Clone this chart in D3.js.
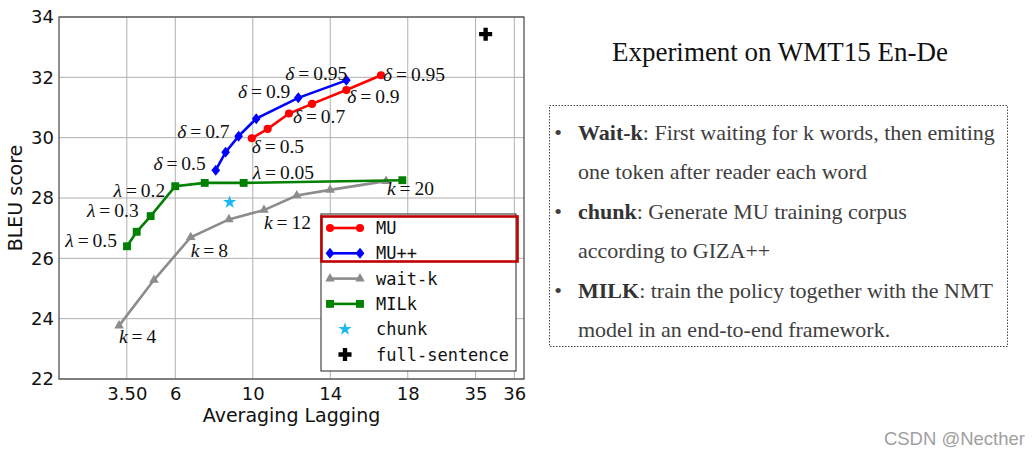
<!DOCTYPE html>
<html>
<head>
<meta charset="utf-8">
<script src="https://cdn.jsdelivr.net/npm/d3@7"></script>
<style>
  html, body { margin: 0; padding: 0; background: #fff; }
  svg { display: block; }
</style>
</head>
<body>
<svg id="chart" width="1036" height="456"></svg>
<script>
// ---------------- data ----------------
const muAL      = [9.95, 10.77, 11.87, 13.06, 14.83, 16.62];
const muBLEU    = [29.98, 30.29, 30.80, 31.12, 31.58, 32.07];
const muppAL    = [8.09, 8.60, 9.27, 10.18, 12.35, 14.83];
const muppBLEU  = [28.92, 29.52, 30.05, 30.63, 31.32, 31.90];
const waitkAL   = [3.10, 4.90, 6.80, 8.77, 10.58, 12.27, 13.99, 16.88];
const waitkBLEU = [23.77, 25.28, 26.70, 27.29, 27.60, 28.08, 28.27, 28.56];
const milkAL    = [3.51, 4.01, 4.73, 6.00, 7.52, 9.53, 17.72];
const milkBLEU  = [26.40, 26.88, 27.40, 28.39, 28.50, 28.50, 28.59];
const chunkAL   = [8.81];
const chunkBLEU = [27.86];
const fullAL    = [22.02];
const fullBLEU  = [33.43];

const seriesNames = ["MU", "MU++", "wait-k", "MILk", "chunk", "full-sentence"];

const xTickValues = [3.5, 6, 10, 14, 18, 21.5, 23.5];
const xTickLabels = ["3.50", "6", "10", "14", "18", "35", "36"];
const yTickValues = [22, 24, 26, 28, 30, 32, 34];

// annotation labels: [series, point index, symbol, value]
const annSeries = [0, 0, 0, 0, 1, 1, 1, 1, 3, 3, 3, 3, 2, 2, 2, 2];
const annIndex  = [0, 2, 4, 5, 0, 2, 4, 5, 0, 2, 3, 5, 0, 2, 4, 7];
const annSymbol = ["δ","δ","δ","δ","δ","δ","δ","δ","λ","λ","λ","λ","k","k","k","k"];
const annValue  = ["0.5","0.7","0.9","0.95","0.5","0.7","0.9","0.95","0.5","0.3","0.2","0.05","4","8","12","20"];

const bulletKeys  = ["Wait-k", "chunk", "MILK"];
const bulletLines = [
  [": First waiting for k words, then emiting", "one token after reader each word"],
  [": Generate MU training corpus", "according to GIZA++"],
  [": train the policy together with the NMT", "model in an end-to-end framework."]
];
const titleText = "Experiment on WMT15 En-De";
const xLabel = "Averaging Lagging";
const yLabel = "BLEU score";

// ---------------- layout / style ----------------
const svg = d3.select("#chart");
const plot = { left: 59, right: 524, top: 17, bottom: 379 };

const x = d3.scaleLinear().domain([0, 24]).range([plot.left, plot.right]);
const y = d3.scaleLinear().domain([22, 34]).range([plot.bottom, plot.top]);

// wider diamond (matplotlib "D"-like, slightly tall)
const symbolWideDiamond = {
  draw(ctx, size) {
    const h = Math.sqrt(size / 1.6);   // half height
    const w = h * 0.8;                 // half width
    ctx.moveTo(0, -h); ctx.lineTo(w, 0); ctx.lineTo(0, h); ctx.lineTo(-w, 0); ctx.closePath();
  }
};

const styles = [
  { color: "#ff0000", symbol: d3.symbolCircle,     size: 52, line: true },
  { color: "#0000ff", symbol: symbolWideDiamond,   size: 48, line: true },
  { color: "#8c8c8c", symbol: d3.symbolTriangle,   size: 40, line: true },
  { color: "#008000", symbol: d3.symbolSquare,     size: 62, line: true },
  { color: "#1cb8f0", symbol: d3.symbolStar,       size: 55, line: false },
  { color: "#000000", symbol: d3.symbolCross,      size: 95, line: false }
];
const seriesX = [muAL, muppAL, waitkAL, milkAL, chunkAL, fullAL];
const seriesY = [muBLEU, muppBLEU, waitkBLEU, milkBLEU, chunkBLEU, fullBLEU];
const series = seriesNames.map((name, i) => ({
  name, ...styles[i],
  pts: seriesX[i].map((v, j) => [v, seriesY[i][j]])
}));

// label offsets (px) relative to anchor point, with anchor
const annLayout = [
  [0, 15, "start"], [4, 9, "start"], [1, 13, "start"], [2, 6, "start"],
  [-10, 0, "end"], [-9, 2, "end"], [-8, 0, "end"], [1, 0, "end"],
  [-10, 1, "end"], [-12, 1, "end"], [-10, 11, "end"], [9, -4, "start"],
  [0, 17, "start"], [0, 20, "start"], [0, 19, "start"], [1, 14, "start"]
];

// ---------------- grid ----------------
const g = svg.append("g");
g.append("g").selectAll("line").data(xTickValues).join("line")
  .attr("x1", d => x(d)).attr("x2", d => x(d))
  .attr("y1", plot.top).attr("y2", plot.bottom)
  .attr("stroke", "#b0b0b0").attr("stroke-width", 1);
g.append("g").selectAll("line").data(yTickValues).join("line")
  .attr("x1", plot.left).attr("x2", plot.right)
  .attr("y1", d => y(d)).attr("y2", d => y(d))
  .attr("stroke", "#b0b0b0").attr("stroke-width", 1);

// ---------------- axes ----------------
const xAxis = d3.axisBottom(x).tickValues(xTickValues)
  .tickFormat((d, i) => xTickLabels[i]).tickSize(0).tickPadding(8);
const yAxis = d3.axisLeft(y).tickValues(yTickValues)
  .tickFormat(d3.format("d")).tickSize(0).tickPadding(5);

const gx = svg.append("g").attr("transform", `translate(0,${plot.bottom})`).call(xAxis);
const gy = svg.append("g").attr("transform", `translate(${plot.left},0)`).call(yAxis);
[gx, gy].forEach(a => {
  a.select(".domain").remove();
  a.selectAll("text").attr("font-family", "DejaVu Sans").attr("font-size", 18).attr("fill", "#111");
});

// frame
svg.append("rect")
  .attr("x", plot.left).attr("y", plot.top)
  .attr("width", plot.right - plot.left).attr("height", plot.bottom - plot.top)
  .attr("fill", "none").attr("stroke", "#444").attr("stroke-width", 1.2);

svg.append("text").text(xLabel)
  .attr("x", (plot.left + plot.right) / 2).attr("y", 422)
  .attr("text-anchor", "middle").attr("font-family", "DejaVu Sans")
  .attr("font-size", 19).attr("fill", "#111");
svg.append("text").text(yLabel)
  .attr("transform", `translate(22,${(plot.top + plot.bottom) / 2}) rotate(-90)`)
  .attr("text-anchor", "middle").attr("font-family", "DejaVu Sans")
  .attr("font-size", 19).attr("fill", "#111");

// ---------------- series ----------------
const line = d3.line().x(d => x(d[0])).y(d => y(d[1]));
series.forEach(s => {
  if (s.line) {
    svg.append("path").datum(s.pts).attr("d", line)
      .attr("fill", "none").attr("stroke", s.color).attr("stroke-width", 2.6);
  }
  svg.append("g").selectAll("path").data(s.pts).join("path")
    .attr("transform", d => `translate(${x(d[0])},${y(d[1])})`)
    .attr("d", d3.symbol().type(s.symbol).size(s.size))
    .attr("fill", s.color);
});

// ---------------- annotations ----------------
annSeries.forEach((si, k) => {
  const p = series[si].pts[annIndex[k]];
  const [dx, dy, anchor] = annLayout[k];
  const t = svg.append("text")
    .attr("x", x(p[0]) + dx).attr("y", y(p[1]) + dy)
    .attr("text-anchor", anchor)
    .attr("font-family", "Liberation Serif").attr("font-size", 19.5).attr("fill", "#111");
  t.append("tspan").attr("font-style", "italic").text(annSymbol[k]);
  t.append("tspan").text("\u2009=\u2009" + annValue[k]);
});

// ---------------- legend ----------------
const lg = svg.append("g");
lg.append("rect").attr("x", 321).attr("y", 214).attr("width", 195).attr("height", 157)
  .attr("fill", "#fff").attr("stroke", "#222").attr("stroke-width", 1);
series.forEach((s, i) => {
  const yy = 228 + i * 25.3;
  if (s.line) {
    lg.append("line").attr("x1", 330).attr("x2", 360).attr("y1", yy).attr("y2", yy)
      .attr("stroke", s.color).attr("stroke-width", 2.6);
    [330, 360].forEach(xx => lg.append("path")
      .attr("transform", `translate(${xx},${yy})`)
      .attr("d", d3.symbol().type(s.symbol).size(s.size)).attr("fill", s.color));
  } else {
    lg.append("path").attr("transform", `translate(345,${yy})`)
      .attr("d", d3.symbol().type(s.symbol).size(s.size)).attr("fill", s.color);
  }
  lg.append("text").text(s.name).attr("x", 376).attr("y", yy + 6)
    .attr("font-family", "DejaVu Sans Mono").attr("font-size", 17).attr("fill", "#111");
});
lg.append("rect").attr("x", 321.5).attr("y", 216.5).attr("width", 196).attr("height", 45)
  .attr("fill", "none").attr("stroke", "#c00000").attr("stroke-width", 2.6);

// ---------------- right panel ----------------
svg.append("text").text(titleText)
  .attr("x", 780).attr("y", 61).attr("text-anchor", "middle")
  .attr("font-family", "Liberation Serif").attr("font-size", 27).attr("fill", "#111");

svg.append("rect").attr("x", 549.5).attr("y", 105.5).attr("width", 458).attr("height", 241)
  .attr("fill", "none").attr("stroke", "#444").attr("stroke-width", 1).attr("stroke-dasharray", "1.5,1.5");

bulletKeys.forEach((key, i) => {
  const by = 140 + i * 2 * 39.4;
  svg.append("text").text("•").attr("x", 558).attr("y", by).attr("text-anchor", "middle")
    .attr("font-family", "Liberation Serif").attr("font-size", 22).attr("fill", "#404040");
  const t = svg.append("text").attr("x", 578).attr("y", by)
    .attr("font-family", "Liberation Serif").attr("font-size", 22).attr("fill", "#404040");
  t.append("tspan").attr("font-weight", "bold").attr("fill", "#333").text(key);
  t.append("tspan").text(bulletLines[i][0]);
  svg.append("text").text(bulletLines[i][1]).attr("x", 578).attr("y", by + 39.4)
    .attr("font-family", "Liberation Serif").attr("font-size", 22).attr("fill", "#404040");
});

svg.append("text").text("CSDN @Necther")
  .attr("x", 1025).attr("y", 445).attr("text-anchor", "end")
  .attr("font-family", "Liberation Sans").attr("font-size", 18.5).attr("fill", "#a0a0a0");
</script>
</body>
</html>
